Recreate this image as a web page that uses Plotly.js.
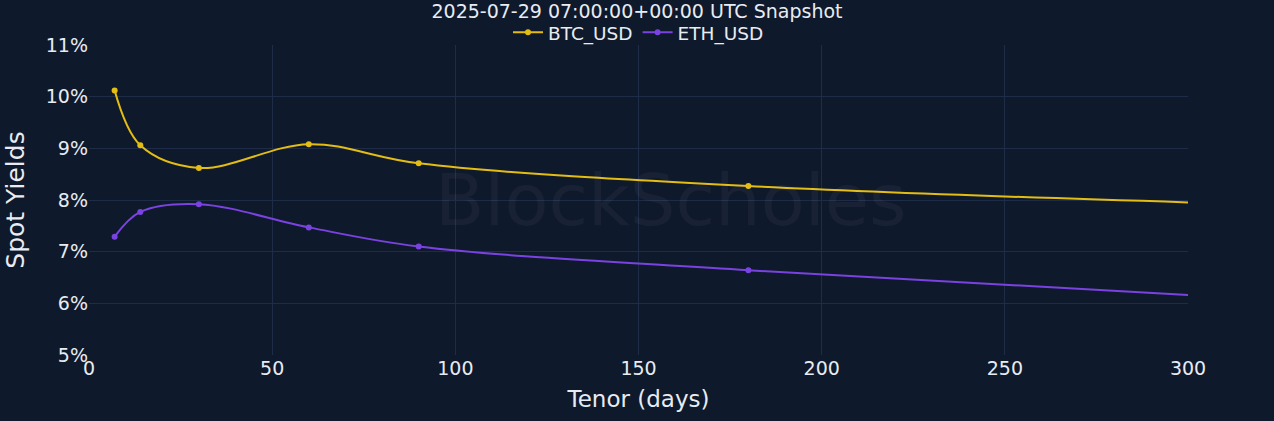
<!DOCTYPE html>
<html>
<head>
<meta charset="utf-8">
<script src="https://cdn.plot.ly/plotly-3.0.1.min.js"></script>
<style>html,body{margin:0;padding:0;background:#0f192c;}#chart{width:1274px;height:421px;}</style>
</head>
<body>
<div id="chart"></div>
<script>
const tenorDays = [7, 14, 30, 60, 90, 180, 365];
const btcYields = [0.1012, 0.0906, 0.0862, 0.0908, 0.0871, 0.0827, 0.0782];
const ethYields = [0.0729, 0.0777, 0.0792, 0.0747, 0.0710, 0.0664, 0.0590];
const seriesNames = ["BTC_USD", "ETH_USD"];
const titleText = "2025-07-29 07:00:00+00:00 UTC Snapshot";

const FONT = "DejaVu Sans, sans-serif";
const traces = [
  {x: tenorDays, y: btcYields, name: seriesNames[0], mode: "lines+markers", line: {shape: "spline", color: "#e3bd14", width: 2}, marker: {size: 6, color: "#e3bd14"}},
  {x: tenorDays, y: ethYields, name: seriesNames[1], mode: "lines+markers", line: {shape: "spline", color: "#7a42e0", width: 2}, marker: {size: 6, color: "#7a42e0"}}
];
const layout = {
  width: 1274, height: 421,
  paper_bgcolor: "#0f192c", plot_bgcolor: "#0f192c",
  margin: {l: 89, r: 86, t: 45, b: 66, autoexpand: false},
  font: {family: FONT, color: "#e8ecf2", size: 19},
  title: {text: titleText, x: 0.5, xanchor: "center", yref: "container", y: 0.972, yanchor: "middle", automargin: false, font: {size: 19, family: FONT, color: "#e8ecf2"}},
  showlegend: true,
  legend: {orientation: "h", x: 0.5, xanchor: "center", yref: "container", y: 0.922, yanchor: "middle", font: {size: 18.5, color: "#e8ecf2"}, bgcolor: "rgba(0,0,0,0)", itemwidth: 30, tracegroupgap: 0},
  xaxis: {range: [0, 300], dtick: 50, showgrid: true, gridcolor: "#1f2c48", zeroline: false, showline: false, ticks: "", tickfont: {size: 19}, automargin: false,
          title: {text: "Tenor (days)", font: {size: 23}, standoff: 12}},
  yaxis: {range: [0.05, 0.11], dtick: 0.01, tickformat: ".0%", showgrid: true, gridcolor: "#1f2c48", zeroline: false, showline: false, ticks: "", tickfont: {size: 19}, automargin: false,
          title: {text: "Spot Yields", font: {size: 25}, standoff: 14}},
  annotations: [{text: "BlockScholes", xref: "paper", yref: "paper", x: 0.53, y: 0.5, showarrow: false, font: {size: 72, family: FONT, color: "rgba(255,255,255,0.04)"}}]
};
Plotly.newPlot("chart", traces, layout, {displayModeBar: false, staticPlot: true});
</script>
</body>
</html>
